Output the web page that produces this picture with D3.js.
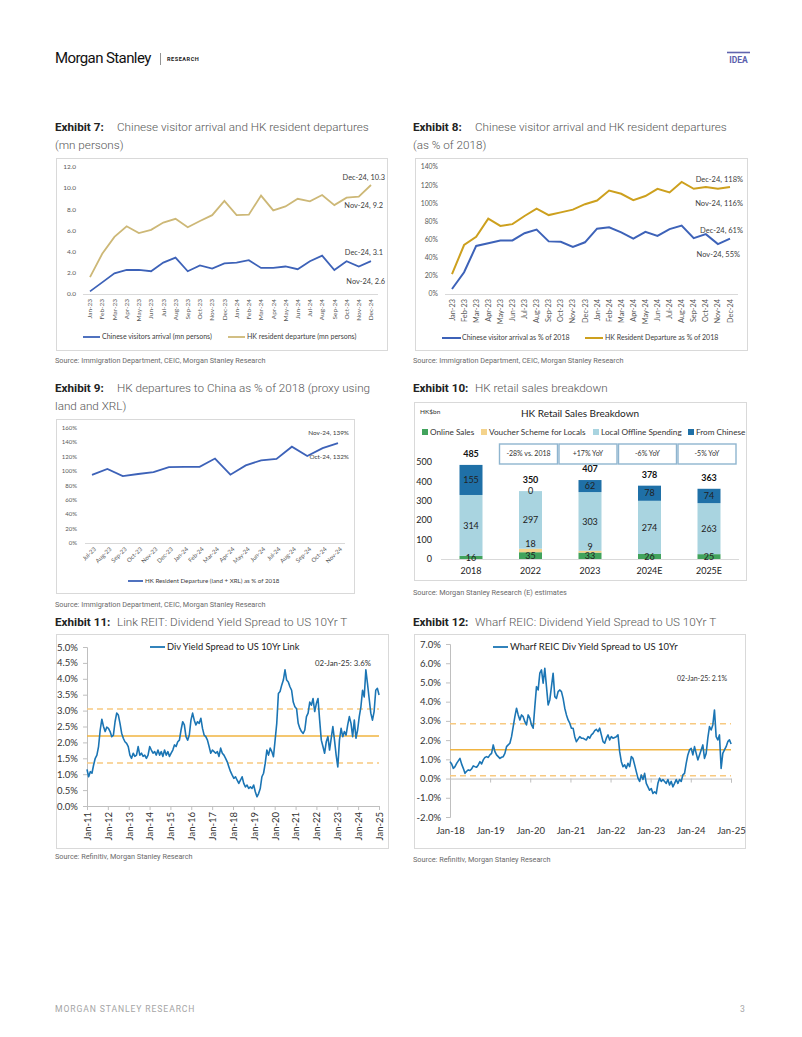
<!DOCTYPE html>
<html>
<head>
<meta charset="utf-8">
<script src="https://cdn.jsdelivr.net/npm/d3@7/dist/d3.min.js"></script>
<style>
html,body{margin:0;padding:0;background:#fff;}
svg{display:block;}
</style>
</head>
<body>
<svg id="page" width="802" height="1037" xmlns="http://www.w3.org/2000/svg"></svg>
<script>
// ================= DATA =================
const months23_24 = ["Jan-23","Feb-23","Mar-23","Apr-23","May-23","Jun-23","Jul-23","Aug-23","Sep-23","Oct-23","Nov-23","Dec-23",
  "Jan-24","Feb-24","Mar-24","Apr-24","May-24","Jun-24","Jul-24","Aug-24","Sep-24","Oct-24","Nov-24","Dec-24"];
// Exhibit 7 (mn persons)
const visitorsMn   = [0.25,1.1,1.96,2.27,2.27,2.15,2.97,3.44,2.15,2.7,2.4,2.9,2.97,3.2,2.46,2.46,2.6,2.34,3.1,3.63,2.27,3.1,2.6,3.1];
const departuresMn = [1.6,3.8,5.4,6.4,5.75,6.06,6.75,7.1,6.3,6.9,7.45,8.8,7.45,7.5,9.3,7.9,8.27,9.0,8.75,9.35,8.4,9.1,9.2,10.3];
const ticksMn = [0,2,4,6,8,10,12];
// Exhibit 8 (% of 2018)
const visitorsPct   = [5.5,24,53,56,59,59,67,71,58,57.5,52,57,72,73.5,68,61,68.5,64,71.5,75.5,61.5,66,55,61];
const departuresPct = [22,54,63,83,75,77,86,94,87,90,93,99,103,114,110.5,103.5,108,116,112,123.5,116,118,116,118];
const ticksPct140 = [0,20,40,60,80,100,120,140];
// Exhibit 9
const months9 = ["Jul-23","Aug-23","Sep-23","Oct-23","Nov-23","Dec-23","Jan-24","Feb-24","Mar-24","Apr-24","May-24","Jun-24","Jul-24","Aug-24","Sep-24","Oct-24","Nov-24"];
const proxyPct = [94.7,103,93,96,98.5,105.5,106,106,117.5,95,108,115,117,134,121,132,139];
const ticksPct160 = [0,20,40,60,80,100,120,140,160];
// Exhibit 10 (HK$bn)
const retailYears = ["2018","2022","2023","2024E","2025E"];
const onlineSales   = [16,35,33,26,25];
const voucherSales  = [0,18,9,0,0];
const localOffline  = [314,297,303,274,263];
const fromChinese   = [155,0,62,78,74];
const retailTotals  = [485,350,407,378,363];
const retailGrowth  = ["-28% vs. 2018","+17% YoY","-6% YoY","-5% YoY"]; // for 2022..2025E
const retailTicks = [0,100,200,300,400,500];
const retailSeries = ["Online Sales","Voucher Scheme for Locals","Local Offline Spending","From Chinese"];
// Exhibit 11: Link REIT spread (%), evenly sampled Jan-11 .. 02-Jan-25
const linkStart = "2011-01-01", linkEnd = "2025-01-02";
const linkSpread = [
1.15,0.92,1.08,1.03,1.29,1.5,1.6,1.87,2.39,2.73,
2.5,2.34,2.48,2.44,2.34,2.18,2.23,2.65,2.92,2.86,
2.6,2.29,2.13,2.02,1.97,1.87,1.6,1.5,1.66,1.56,
1.6,1.87,1.6,1.66,1.56,1.6,1.5,1.6,1.87,1.76,
1.66,1.71,1.6,1.76,1.6,1.71,1.56,1.76,1.6,1.71,
1.56,1.66,1.76,1.92,1.87,2.02,2.07,2.39,2.65,2.55,
2.18,2.07,2.23,2.7,2.92,2.7,2.55,2.65,2.6,2.76,
2.44,2.23,2.18,2.07,1.87,1.66,1.76,1.71,1.66,1.71,
1.56,1.82,1.66,1.6,1.5,1.39,1.23,1.08,
0.97,0.87,0.92,0.81,0.71,0.81,0.92,0.71,0.6,0.66,
0.55,0.6,0.55,0.66,0.45,0.29,0.39,0.55,0.92,1.03,
1.34,1.76,1.6,1.82,1.71,1.55,2.07,2.6,3.54,3.6,
3.8,3.96,4.28,3.96,3.9,3.75,3.64,3.27,3.12,3.06,
2.6,2.44,2.34,2.28,2.39,2.81,2.92,3.27,3.17,3.38,
2.97,3.22,3.38,2.7,2.07,1.87,1.66,2.02,2.18,1.76,
2.13,2.5,2.07,1.6,1.23,2.07,2.44,2.18,2.34,2.23,
2.55,2.81,2.6,2.18,2.7,2.13,2.39,2.81,3.12,3.64,
3.43,4.28,3.85,3.38,2.92,2.7,2.97,3.64,3.7,3.49];
const linkMean = 2.2, linkUpper = 3.05, linkLower = 1.35;
const linkTicks = [0,0.5,1,1.5,2,2.5,3,3.5,4,4.5,5];
// Exhibit 12: Wharf REIC spread (%), evenly sampled Jan-18 .. 02-Jan-25
const wharfStart = "2018-01-01", wharfEnd = "2025-01-02";
const wharfSpread = [
0.88,0.76,0.53,0.62,0.79,0.92,1.05,0.75,0.53,0.27,
0.38,0.45,0.42,0.50,0.66,0.62,0.59,0.71,0.88,0.76,
0.97,1.10,1.14,1.10,1.23,1.31,1.75,1.40,1.23,1.14,
1.05,1.11,1.14,1.31,1.66,1.75,1.84,2.18,2.70,3.22,
3.66,3.31,3.05,3.31,3.22,2.96,2.79,3.31,3.14,2.79,
2.62,3.74,4.78,4.61,5.48,5.65,4.96,5.74,4.78,3.83,
4.09,4.78,5.48,4.26,4.17,4.52,4.61,4.52,4.17,3.66,
3.31,3.05,2.88,2.62,2.62,2.18,1.92,2.05,2.18,2.10,
2.10,2.05,2.01,2.18,
2.10,2.27,2.35,2.49,2.56,2.44,2.62,2.27,1.92,1.84,
2.10,2.27,2.01,2.18,2.10,2.14,2.18,2.27,1.40,0.88,
0.62,0.71,0.53,0.79,0.62,1.14,1.05,0.71,0.36,0.02,
-0.15,0.19,-0.05,0.27,-0.25,-0.43,-0.61,-0.52,-0.78,-0.69,
-0.78,-0.25,0.02,-0.15,-0.05,-0.15,-0.25,-0.05,-0.33,-0.15,
-0.43,-0.25,-0.05,-0.25,-0.05,-0.15,0.19,0.27,0.79,1.23,
1.49,1.57,1.23,1.66,1.31,0.97,1.23,1.49,1.75,1.05,
1.31,2.10,2.70,2.53,2.79,3.57,2.18,2.01,2.27,0.53,
1.31,1.49,1.66,1.92,2.01,1.80];
const wharfMean = 1.5, wharfUpper = 2.85, wharfLower = 0.15;
const wharfTicks = [-2,-1,0,1,2,3,4,5,6,7];

// ================= DRAWING =================
const svg = d3.select("#page");
const LATO = "Lato, 'Open Sans', sans-serif";
const ROB = "Roboto, 'Open Sans', sans-serif";

function addText(x, y, s, o = {}) {
  const t = svg.append("text").attr("x", x).attr("y", y).text(s)
    .attr("font-family", o.ff || LATO).attr("font-size", o.fs || 8)
    .attr("fill", o.fill || "#333");
  if (o.anchor) t.attr("text-anchor", o.anchor);
  if (o.fw) t.attr("font-weight", o.fw);
  if (o.mid) t.attr("dy", "0.35em");
  if (o.ls !== undefined) t.attr("letter-spacing", o.ls);
  return t;
}
function box(x0, y0, x1, y1) {
  svg.append("rect").attr("x", x0 + 0.5).attr("y", y0 + 0.5).attr("width", x1 - x0).attr("height", y1 - y0)
    .attr("fill", "#fff").attr("stroke", "#d9d9d9").attr("stroke-width", 1);
}
function hline(x0, x1, y, color, w, dash) {
  const l = svg.append("line").attr("x1", x0).attr("x2", x1).attr("y1", y).attr("y2", y)
    .attr("stroke", color).attr("stroke-width", w || 1);
  if (dash) l.attr("stroke-dasharray", dash);
  return l;
}
function title(x, y, bold, rest, line2) {
  const t = svg.append("text").attr("x", x).attr("y", y).attr("font-family", ROB).attr("font-size", 11.7);
  t.append("tspan").attr("font-weight", 700).attr("fill", "#222").text(bold);
  t.append("tspan").attr("x", x + 62).attr("font-weight", 300).attr("fill", "#555").text(rest);
  if (line2) addText(x, y + 18, line2, {ff: ROB, fs: 11.7, fw: 300, fill: "#555"});
}
function source(x, y, s) { addText(x, y, s, {ff: ROB, fs: 7.3, fill: "#6b6b6b"}); }

// ---------- Header & footer ----------
addText(55, 63, "Morgan Stanley", {ff: ROB, fs: 15, fill: "#111", ls: -0.6});
svg.append("line").attr("x1", 160.5).attr("x2", 160.5).attr("y1", 53).attr("y2", 65).attr("stroke", "#777").attr("stroke-width", 0.8);
addText(167, 61, "RESEARCH", {ff: ROB, fs: 5.6, fw: 700, fill: "#222", ls: 0.5});
hline(727, 750, 52.5, "#6165ae", 1.6);
addText(738.5, 63, "IDEA", {ff: ROB, fs: 8.5, fw: 700, fill: "#5b60ad", anchor: "middle"});
addText(55, 1012, "MORGAN STANLEY RESEARCH", {ff: ROB, fs: 8.6, fill: "#a5a5a5", ls: 0.9});
addText(740, 1012, "3", {ff: ROB, fs: 8.6, fill: "#a5a5a5"});

const BLUE = "#3d62b8";

// ---------- Exhibit 7 ----------
title(55, 131, "Exhibit 7:", "Chinese visitor arrival and HK resident departures", "(mn persons)");
box(56, 158, 387, 350);
{
  const x = d3.scalePoint().domain(months23_24).range([90, 371]);
  const y = d3.scaleLinear().domain([0, 12]).range([294, 167]);
  ticksMn.forEach(v => addText(76, y(v), v.toFixed(1), {anchor: "end", mid: true, fs: 6.5, fill: "#595959"}));
  hline(83, 378, y(0) + 0.5, "#d9d9d9", 1);
  months23_24.forEach(m => svg.append("text").attr("transform", `translate(${x(m)},299) rotate(-90)`)
    .attr("text-anchor", "end").attr("dy", "0.35em").attr("font-family", LATO).attr("font-size", 6.5)
    .attr("fill", "#595959").text(m));
  const line = d3.line().x((d, i) => x(months23_24[i])).y(d => y(d));
  svg.append("path").datum(departuresMn).attr("d", line).attr("fill", "none").attr("stroke", "#cdb877").attr("stroke-width", 1.8);
  svg.append("path").datum(visitorsMn).attr("d", line).attr("fill", "none").attr("stroke", BLUE).attr("stroke-width", 1.8);
  const xe = x("Dec-24");
  addText(xe + 14, y(departuresMn[23]) - 8, "Dec-24, " + departuresMn[23], {anchor: "end", mid: true, fs: 7.4, fill: "#404040"});
  addText(xe + 12, y(departuresMn[22]) + 9, "Nov-24, " + departuresMn[22], {anchor: "end", mid: true, fs: 7.4, fill: "#404040"});
  addText(xe + 12, y(visitorsMn[23]) - 9, "Dec-24, " + visitorsMn[23], {anchor: "end", mid: true, fs: 7.4, fill: "#404040"});
  addText(xe + 14, y(visitorsMn[22]) + 15, "Nov-24, " + visitorsMn[22], {anchor: "end", mid: true, fs: 7.4, fill: "#404040"});
  hline(83, 100, 337, BLUE, 1.8);
  addText(102, 337, "Chinese visitors arrival (mn persons)", {mid: true, fs: 7, fill: "#404040"});
  hline(228, 245, 337, "#cdb877", 1.8);
  addText(247, 337, "HK resident departure (mn persons)", {mid: true, fs: 7, fill: "#404040"});
}
source(55, 363, "Source: Immigration Department, CEIC, Morgan Stanley Research");

// ---------- Exhibit 8 ----------
title(413, 131, "Exhibit 8:", "Chinese visitor arrival and HK resident departures", "(as % of 2018)");
box(415, 158, 747, 350);
{
  const x = d3.scalePoint().domain(months23_24).range([452, 730]);
  const y = d3.scaleLinear().domain([0, 140]).range([294, 167]);
  ticksPct140.forEach(v => addText(438, y(v), v + "%", {anchor: "end", mid: true, fs: 6.8, fill: "#595959"}));
  hline(445, 738, y(0) + 0.5, "#d9d9d9", 1);
  months23_24.forEach(m => svg.append("text").attr("transform", `translate(${x(m)},299) rotate(-90)`)
    .attr("text-anchor", "end").attr("dy", "0.35em").attr("font-family", LATO).attr("font-size", 7.3)
    .attr("fill", "#595959").text(m));
  const line = d3.line().x((d, i) => x(months23_24[i])).y(d => y(d));
  const GOLD = "#cda01e";
  svg.append("path").datum(departuresPct).attr("d", line).attr("fill", "none").attr("stroke", GOLD).attr("stroke-width", 2);
  svg.append("path").datum(visitorsPct).attr("d", line).attr("fill", "none").attr("stroke", BLUE).attr("stroke-width", 2);
  addText(743, y(departuresPct[23]) - 8, "Dec-24, " + departuresPct[23] + "%", {anchor: "end", mid: true, fs: 7.5, fill: "#404040"});
  addText(743, y(departuresPct[22]) + 15, "Nov-24, " + departuresPct[22] + "%", {anchor: "end", mid: true, fs: 7.5, fill: "#404040"});
  addText(743, y(visitorsPct[23]) - 8, "Dec-24, " + visitorsPct[23] + "%", {anchor: "end", mid: true, fs: 7.5, fill: "#404040"});
  addText(740, y(visitorsPct[22]) + 10, "Nov-24, " + visitorsPct[22] + "%", {anchor: "end", mid: true, fs: 7.5, fill: "#404040"});
  hline(442, 461, 338, BLUE, 2);
  addText(462, 338, "Chinese visitor arrival as % of 2018", {mid: true, fs: 7, fill: "#404040"});
  hline(585, 603, 338, GOLD, 2);
  addText(605, 338, "HK Resident Departure as % of 2018", {mid: true, fs: 7, fill: "#404040"});
}
source(413, 363, "Source: Immigration Department, CEIC, Morgan Stanley Research");

// ---------- Exhibit 9 ----------
title(55, 392, "Exhibit 9:", "HK departures to China as % of 2018 (proxy using", "land and XRL)");
box(56, 419, 354, 593);
{
  const x = d3.scalePoint().domain(months9).range([92, 338]);
  const y = d3.scaleLinear().domain([0, 160]).range([543, 428]);
  ticksPct160.forEach(v => addText(77, y(v), v + "%", {anchor: "end", mid: true, fs: 6, fill: "#595959"}));
  hline(85, 345, y(0) + 0.5, "#d9d9d9", 1);
  months9.forEach(m => svg.append("text").attr("transform", `translate(${x(m) + 3},548) rotate(-45)`)
    .attr("text-anchor", "end").attr("dy", "0.35em").attr("font-family", LATO).attr("font-size", 6)
    .attr("fill", "#595959").text(m));
  const line = d3.line().x((d, i) => x(months9[i])).y(d => y(d));
  svg.append("path").datum(proxyPct).attr("d", line).attr("fill", "none").attr("stroke", BLUE).attr("stroke-width", 1.8);
  addText(349, y(proxyPct[16]) - 10, "Nov-24, " + proxyPct[16] + "%", {anchor: "end", mid: true, fs: 6.4, fill: "#404040"});
  addText(349, y(proxyPct[15]) + 9, "Oct-24, " + proxyPct[15] + "%", {anchor: "end", mid: true, fs: 6.4, fill: "#404040"});
  hline(128, 143, 581, BLUE, 1.8);
  addText(145, 581, "HK Resident Departure (land + XRL) as % of 2018", {mid: true, fs: 6.2, fill: "#404040"});
}
source(55, 607, "Source: Immigration Department, CEIC, Morgan Stanley Research");

// ---------- Exhibit 10 ----------
title(413, 392, "Exhibit 10:", "HK retail sales breakdown");
box(414, 402, 746, 580);
{
  const x = d3.scalePoint().domain(retailYears).range([471, 709]);
  const y = d3.scaleLinear().domain([0, 500]).range([559, 462]);
  const bw = 23;
  const COLORS = ["#41a35c", "#f4d38c", "#a9d4e0", "#1f70a7"];
  addText(420, 414, "HK$bn", {fs: 6.5, fill: "#333"});
  addText(580, 417, "HK Retail Sales Breakdown", {anchor: "middle", fs: 10, fill: "#222"});
  const legX = [422, 481, 593, 688];
  retailSeries.forEach((s, i) => {
    svg.append("rect").attr("x", legX[i]).attr("y", 429).attr("width", 6).attr("height", 6).attr("fill", COLORS[i]);
    addText(legX[i] + 8, 432, s, {mid: true, fs: 8.2, fill: "#333"});
  });
  retailTicks.forEach(v => addText(432, y(v), v, {anchor: "end", mid: true, fs: 9, fill: "#222"}));
  hline(441, 739, y(0) + 0.5, "#d9d9d9", 1);
  const stacks = [onlineSales, voucherSales, localOffline, fromChinese];
  retailYears.forEach((yr, i) => {
    let base = 0;
    stacks.forEach((arr, k) => {
      const v = arr[i];
      svg.append("rect").attr("x", x(yr) - bw / 2).attr("width", bw)
        .attr("y", y(base + v)).attr("height", y(base) - y(base + v)).attr("fill", COLORS[k]);
      base += v;
    });
  });
  retailYears.forEach((yr, i) => {
    const cx = x(yr);
    let b = 0;
    addText(cx, y(onlineSales[i] / 2), onlineSales[i], {anchor: "middle", mid: true, fs: 9, fill: "#222"});
    b += onlineSales[i];
    if (voucherSales[i] > 0) addText(cx, y(b + voucherSales[i]) - 4.5, voucherSales[i], {anchor: "middle", mid: true, fs: 9, fill: "#222"});
    b += voucherSales[i];
    addText(cx, y(b + localOffline[i] / 2), localOffline[i], {anchor: "middle", mid: true, fs: 9, fill: "#222"});
    b += localOffline[i];
    addText(cx, y(b + fromChinese[i] / 2), fromChinese[i], {anchor: "middle", mid: true, fs: 9, fill: "#222"});
    addText(cx, y(retailTotals[i]) - 11, retailTotals[i], {anchor: "middle", mid: true, fs: 9, fw: 700, fill: "#111"});
    addText(cx, 571, yr, {anchor: "middle", mid: true, fs: 9, fill: "#222"});
  });
  retailGrowth.forEach((g, i) => {
    const cx = x(retailYears[i + 1]) - 2;
    svg.append("rect").attr("x", cx - 29).attr("y", 444).attr("width", 58).attr("height", 20)
      .attr("fill", "#fff").attr("stroke", "#8fb5cf").attr("stroke-width", 1.4);
    addText(cx, 454, g, {anchor: "middle", mid: true, fs: 7, fill: "#333"});
  });
}
source(413, 595, "Source: Morgan Stanley Research (E) estimates");

// ---------- spread chart helper ----------
function spreadChart(o) {
  const t0 = new Date(o.start), t1 = new Date(o.end);
  const n = o.values.length;
  const dates = o.values.map((v, i) => new Date(+t0 + (t1 - t0) * i / (n - 1)));
  const x = d3.scaleTime().domain(o.xDomain.map(d => new Date(d))).range(o.xRange);
  const y = d3.scaleLinear().domain(o.yDomain).range(o.yRange);
  const ga = svg.append("g").attr("transform", `translate(${o.xRange[0]},0)`)
    .call(d3.axisLeft(y).tickValues(o.yTicks).tickSize(4).tickPadding(5).tickFormat(d => d.toFixed(1) + "%"));
  ga.select(".domain").attr("stroke", "#bfbfbf");
  ga.selectAll(".tick line").attr("stroke", "#bfbfbf");
  ga.selectAll("text").attr("font-family", LATO).attr("font-size", 9.5).attr("fill", "#333");
  const years = d3.timeYear.range(new Date(o.xDomain[0]), d3.timeDay.offset(new Date(o.xDomain[1]), 1));
  const gx = svg.append("g").attr("transform", `translate(0,${y(o.xAxisAt)})`)
    .call(d3.axisBottom(x).tickValues(years).tickSize(4).tickFormat(d3.timeFormat("%b-%y")));
  gx.select(".domain").attr("stroke", "#bfbfbf");
  gx.selectAll(".tick line").attr("stroke", "#bfbfbf");
  gx.selectAll("text").attr("font-family", LATO).attr("font-size", 9.5).attr("fill", "#333");
  if (o.rotate) {
    gx.selectAll("text").attr("transform", "rotate(-90)").attr("text-anchor", "end")
      .attr("x", -6).attr("y", 0).attr("dy", "0.35em");
  } else {
    gx.selectAll("text").attr("y", o.labelY - y(o.xAxisAt)).attr("dy", "0.35em");
  }
  hline(o.xRange[0], o.xRange[1], y(o.upper), "#f7c980", 1.5, "6,4");
  hline(o.xRange[0], o.xRange[1], y(o.lower), "#f7c980", 1.5, "6,4");
  hline(o.xRange[0], o.xRange[1], y(o.mean), "#f0b441", 1.6);
  const line = d3.line().x((d, i) => x(dates[i])).y(d => y(d));
  svg.append("path").datum(o.values).attr("d", line).attr("fill", "none")
    .attr("stroke", "#1b75b4").attr("stroke-width", 1.6).attr("stroke-linejoin", "round");
  hline(o.legX, o.legX + 15, o.legY, "#1b75b4", 1.8);
  addText(o.legX + 17, o.legY, o.legText, {mid: true, fs: o.legFs, fill: "#222"});
  addText(o.annX, o.annY, o.annText, {mid: true, fs: o.annFs, fill: "#333"});
}

// ---------- Exhibit 11 ----------
title(55, 626, "Exhibit 11:", "Link REIT: Dividend Yield Spread to US 10Yr T");
box(56, 634, 388, 848);
spreadChart({
  start: linkStart, end: linkEnd, values: linkSpread,
  xDomain: ["2011-01-01", "2025-01-01"], xRange: [87, 379],
  yDomain: [0, 5], yRange: [806, 647], yTicks: linkTicks, xAxisAt: 0, rotate: true,
  mean: linkMean, upper: linkUpper, lower: linkLower,
  legX: 150, legY: 647, legText: "Div Yield Spread to US 10Yr Link", legFs: 9.3,
  annX: 315, annY: 663, annText: "02-Jan-25: 3.6%", annFs: 7.8
});
source(55, 859, "Source: Refinitiv, Morgan Stanley Research");

// ---------- Exhibit 12 ----------
title(413, 626, "Exhibit 12:", "Wharf REIC: Dividend Yield Spread to US 10Yr T");
box(414, 634, 745, 848);
spreadChart({
  start: wharfStart, end: wharfEnd, values: wharfSpread,
  xDomain: ["2018-01-01", "2025-01-01"], xRange: [450, 731],
  yDomain: [-2, 7], yRange: [817, 644], yTicks: wharfTicks, xAxisAt: 0, rotate: false, labelY: 831,
  mean: wharfMean, upper: wharfUpper, lower: wharfLower,
  legX: 493, legY: 647, legText: "Wharf REIC Div Yield Spread to US 10Yr", legFs: 9.5,
  annX: 677, annY: 679, annText: "02-Jan-25: 2.1%", annFs: 7
});
source(413, 862, "Source: Refinitiv, Morgan Stanley Research");
</script>
</body>
</html>
